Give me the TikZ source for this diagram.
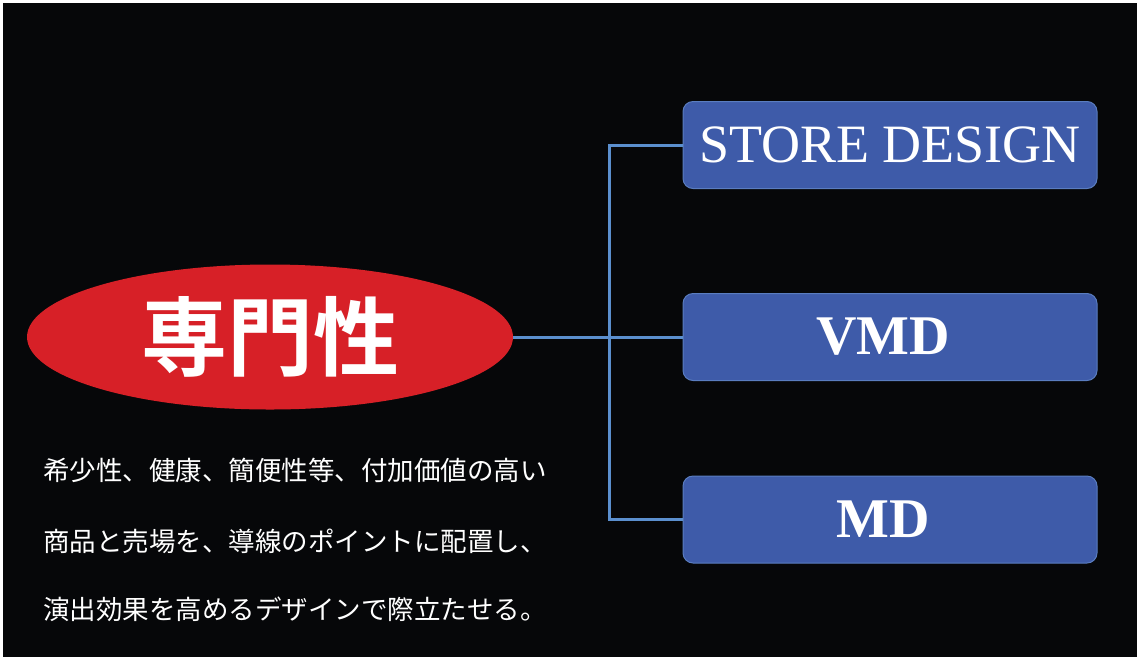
\documentclass[tikz,border=0pt]{standalone}
\usepackage{fontspec}
\usetikzlibrary{shapes.geometric}
\setmainfont{Liberation Serif}
\newfontfamily\jpfont{Noto Sans CJK JP}
\newfontfamily\jpbold{Noto Sans CJK JP Bold}
\definecolor{bgblack}{HTML}{060709}
\definecolor{ellred}{HTML}{D72027}
\definecolor{boxblue}{HTML}{3E5BA9}
\definecolor{boxedge}{HTML}{5A7DC0}
\definecolor{linkblue}{HTML}{5B8FCE}
\tikzset{
  topic/.style={rectangle, rounded corners=10pt, fill=boxblue, draw=boxedge, line width=1pt,
    minimum width=414pt, minimum height=87pt, inner sep=0pt, text=white},
  link/.style={draw=linkblue, line width=3pt},
  desc/.style={anchor=west, text=white, inner sep=0pt, font=\jpfont\fontsize{26.5}{30}\selectfont}
}
\begin{document}
\begin{tikzpicture}[x=1pt,y=-1pt]
\fill[white] (0,0) rectangle (1137,657);
\fill[bgblack] (3,3) rectangle (1137,657);
\useasboundingbox (0,0) rectangle (1137,657);
\node[ellipse, fill=ellred, minimum width=486pt, minimum height=145pt, inner sep=0pt,
  text=white, font=\jpbold\fontsize{86}{96}\selectfont] (core) at (270,337) {専門性};
\node[topic, font=\fontsize{54}{58}\selectfont] (store) at (890,145) {STORE DESIGN};
\node[topic, font=\bfseries\fontsize{56}{60}\selectfont] (vmd) at (890,337) {\hspace*{-14pt}VMD};
\node[topic, font=\bfseries\fontsize{56}{60}\selectfont] (md) at (890,519.5) {\hspace*{-14pt}MD};
\coordinate (jx) at (609,337);
\draw[link] (core.east) -- (vmd.west);
\draw[link] (store.west) -- (store.west -| jx) -- (md.west -| jx) -- (md.west);
\node[desc] (l1) at (43,470) {希少性、健康、簡便性等、付加価値の高い};
\node[desc] (l2) at (43,541) {商品と売場を、導線のポイントに配置し、};
\node[desc] (l3) at (43,609) {演出効果を高めるデザインで際立たせる。};
\end{tikzpicture}
\end{document}
